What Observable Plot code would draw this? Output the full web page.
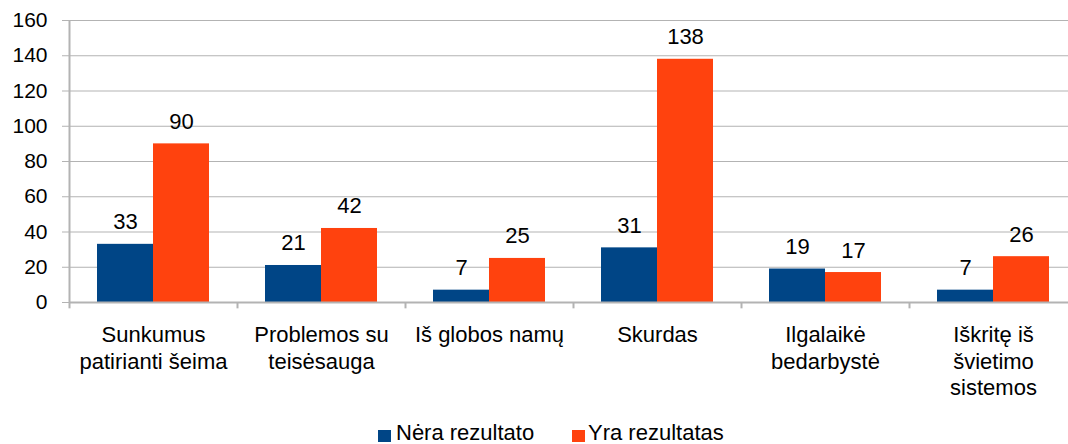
<!DOCTYPE html>
<html><head><meta charset="utf-8">
<script src="https://cdn.jsdelivr.net/npm/d3@7"></script>
<script src="https://cdn.jsdelivr.net/npm/@observablehq/plot@0.6"></script>
<style>
body{margin:0;overflow:hidden;background:#fff;font-family:"Liberation Sans",Arial,sans-serif}
#chart svg{display:block}
#legend{position:relative;height:39px;width:1068px;font-size:22px;color:#000}
#legend .sw{position:absolute;width:13px;height:12px}
#legend .lb{position:absolute;line-height:20px;white-space:nowrap}
</style></head><body><div id="chart"></div><div id="legend"></div>
<script>
const categories = ["Sunkumus\npatirianti šeima","Problemos su\nteisėsauga","Iš globos namų","Skurdas","Ilgalaikė\nbedarbystė","Iškritę iš\nšvietimo\nsistemos"];
const seriesNames = ["Nėra rezultato","Yra rezultatas"];
const neraRezultato = [33,21,7,31,19,7];
const yraRezultatas = [90,42,25,138,17,26];
const yTicks = [0,20,40,60,80,100,120,140,160];
const colors = ["#004586","#ff420e"];

const s0 = categories.map((c,i)=>({cat:c, series:seriesNames[0], value:neraRezultato[i]}));
const s1 = categories.map((c,i)=>({cat:c, series:seriesNames[1], value:yraRezultatas[i]}));
const band = 168;
const grey = "#b3b3b3";

const plot = Plot.plot({
  width:1068, height:405, marginLeft:69, marginRight:0, marginTop:20, marginBottom:103,
  style:{fontFamily:"Liberation Sans", fontSize:"22px", color:"#000", background:"#fff", overflow:"hidden"},
  x:{domain:categories, range:[69,69+band*categories.length], padding:0, axis:null},
  y:{domain:[0,160], range:[302,20], label:null},
  color:{domain:seriesNames, range:colors},
  marks:[
    Plot.ruleY(yTicks.slice(1), {stroke:grey, strokeWidth:1}),
    Plot.barY(s0, {x:"cat", y:"value", fill:"series", insetLeft:28, insetRight:84}),
    Plot.barY(s1, {x:"cat", y:"value", fill:"series", insetLeft:84, insetRight:28}),
    Plot.text(s0, {x:"cat", y:"value", text:d=>String(d.value), dx:-28, dy:-15, lineAnchor:"bottom", fill:"#000", fontSize:22}),
    Plot.text(s1, {x:"cat", y:"value", text:d=>String(d.value), dx:28, dy:-15, lineAnchor:"bottom", fill:"#000", fontSize:22}),
    Plot.ruleY([0], {stroke:grey, strokeWidth:2}),
    Plot.ruleX(categories, {x:d=>d, dx:-band/2, y1:-3.6, y2:0, stroke:grey, strokeWidth:2}),
    Plot.ruleX([categories[0]], {x:d=>d, dx:-band/2, y1:0, y2:160, stroke:grey, strokeWidth:2}),
    Plot.axisY(yTicks, {tickSize:7, tickPadding:15, stroke:grey, fill:"#000", label:null, fontSize:21}),
    Plot.text(categories, {x:d=>d, y:0, text:d=>d, lineAnchor:"top", dy:20.7, lineHeight:1.21, fill:"#000", fontSize:22})
  ]
});
document.getElementById("chart").appendChild(plot);

const legend = document.getElementById("legend");
const legendPos = [{sw:378, lb:396}, {sw:572, lb:588}];
seriesNames.forEach((name,i)=>{
  const sw = document.createElement("div");
  sw.className = "sw"; sw.style.background = colors[i];
  sw.style.left = legendPos[i].sw + "px"; sw.style.top = "25px";
  legend.appendChild(sw);
  const lb = document.createElement("div");
  lb.className = "lb"; lb.textContent = name;
  lb.style.left = legendPos[i].lb + "px"; lb.style.top = "18px";
  legend.appendChild(lb);
});
</script></body></html>
